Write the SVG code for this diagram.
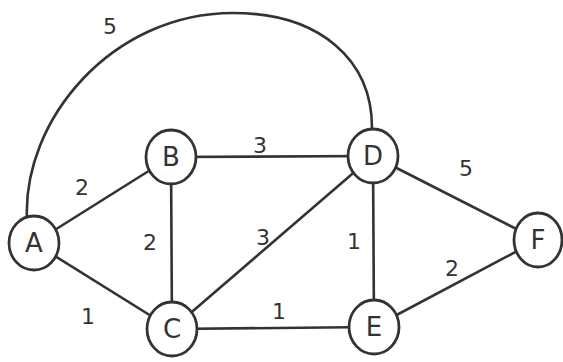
<svg xmlns="http://www.w3.org/2000/svg" width="563" height="362" viewBox="0 0 563 362">
<style>
.e{stroke:#333;stroke-width:2.6;fill:none}
.n ellipse{fill:#fff;stroke:#333;stroke-width:2.8}
.n text{font-family:"DejaVu Sans",sans-serif;font-size:26px;fill:#333;text-anchor:middle;dominant-baseline:central}
.w{font-family:"DejaVu Sans",sans-serif;font-size:22px;fill:#333;text-anchor:middle;dominant-baseline:central}
</style>
<rect width="563" height="362" fill="#fff"/>
<g id="connectors">
<path class="e" d="M27,220 C22,120 112,13 233,13 C320,13 372,60 372,128"/>
<line class="e" x1="34" y1="243" x2="171" y2="157"/>
<line class="e" x1="34" y1="243" x2="172" y2="329"/>
<line class="e" x1="171" y1="157" x2="373" y2="156"/>
<line class="e" x1="171" y1="157" x2="172" y2="329"/>
<line class="e" x1="172" y1="329" x2="373" y2="156"/>
<line class="e" x1="172" y1="329" x2="374" y2="327"/>
<line class="e" x1="373" y1="156" x2="374" y2="327"/>
<line class="e" x1="373" y1="156" x2="538" y2="240"/>
<line class="e" x1="374" y1="327" x2="538" y2="240"/>
</g>
<g id="edge-labels">
<text class="w" x="110" y="26">5</text>
<text class="w" x="82" y="187">2</text>
<text class="w" x="260" y="145">3</text>
<text class="w" x="466" y="168">5</text>
<text class="w" x="150" y="242">2</text>
<text class="w" x="263" y="237">3</text>
<text class="w" x="354" y="241">1</text>
<text class="w" x="452" y="268">2</text>
<text class="w" x="88" y="316">1</text>
<text class="w" x="279" y="311">1</text>
</g>
<g id="A" class="n"><ellipse cx="34" cy="243" rx="25" ry="27"/><text x="34" y="243">A</text></g>
<g id="B" class="n"><ellipse cx="171" cy="157" rx="25" ry="27"/><text x="171" y="157">B</text></g>
<g id="C" class="n"><ellipse cx="172" cy="329" rx="25" ry="27"/><text x="172" y="329">C</text></g>
<g id="D" class="n"><ellipse cx="373" cy="156" rx="25" ry="27"/><text x="373" y="156">D</text></g>
<g id="E" class="n"><ellipse cx="374" cy="327" rx="25" ry="27"/><text x="374" y="327">E</text></g>
<g id="F" class="n"><ellipse cx="538" cy="240" rx="24" ry="27"/><text x="538" y="240">F</text></g>
</svg>
